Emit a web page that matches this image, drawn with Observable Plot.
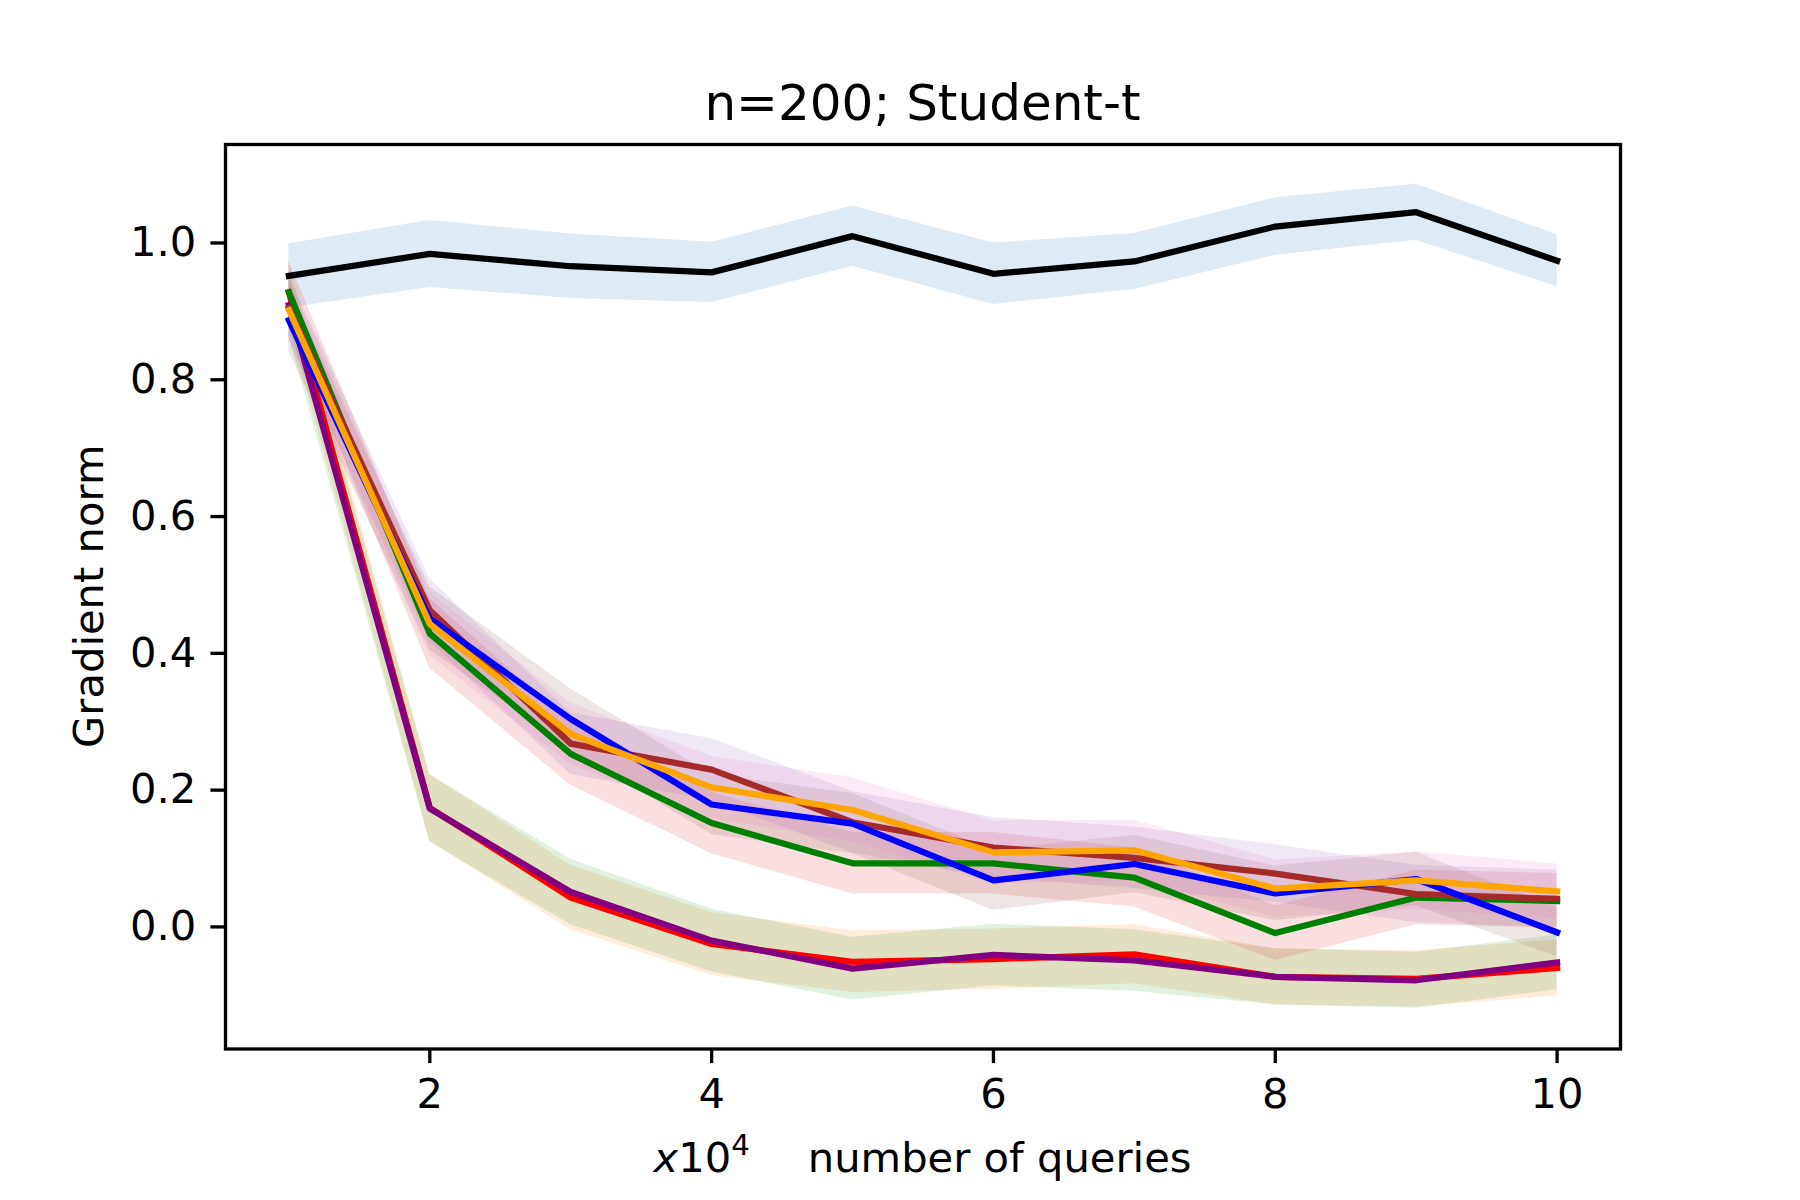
<!DOCTYPE html>
<html>
<head>
<meta charset="utf-8">
<script src="https://cdn.jsdelivr.net/npm/d3@7"></script>
<script src="https://cdn.jsdelivr.net/npm/@observablehq/plot@0.6"></script>
<style>
  html, body { margin: 0; padding: 0; background: #ffffff; }
  #chart svg { display: block; }
</style>
</head>
<body>
<div id="chart"></div>
<script>
// ---- data (x in units of 10^4 queries) ----
const queries = [1, 2, 3, 4, 5, 6, 7, 8, 9, 10];

const seriesNames = ["black", "red", "purple", "green", "brown", "blue", "orange"];
const lineColors  = ["black", "red", "purple", "green", "brown", "blue", "orange"];
const bandColors  = ["#1f77b4", "#ff7f0e", "#2ca02c", "#d62728", "#9467bd", "#8c564b", "#e377c2"];

const meanBlack  = [0.952, 0.984, 0.966, 0.957, 1.010, 0.955, 0.973, 1.024, 1.045, 0.974];
const meanRed    = [0.928, 0.174, 0.043, -0.025, -0.051, -0.047, -0.040, -0.073, -0.076, -0.060];
const meanPurple = [0.909, 0.173, 0.051, -0.020, -0.061, -0.041, -0.049, -0.073, -0.078, -0.052];
const meanGreen  = [0.928, 0.429, 0.253, 0.152, 0.093, 0.093, 0.072, -0.009, 0.043, 0.038];
const meanBrown  = [0.905, 0.463, 0.268, 0.230, 0.153, 0.116, 0.101, 0.078, 0.048, 0.041];
const meanBlue   = [0.887, 0.451, 0.304, 0.179, 0.151, 0.068, 0.092, 0.049, 0.070, -0.008];
const meanOrange = [0.902, 0.443, 0.282, 0.204, 0.171, 0.109, 0.112, 0.056, 0.068, 0.052];

const spreadBlack  = [0.047, 0.049, 0.047, 0.044, 0.044, 0.045, 0.041, 0.042, 0.041, 0.038];
const spreadRed    = [0.045, 0.049, 0.047, 0.046, 0.045, 0.044, 0.043, 0.041, 0.041, 0.041];
const spreadPurple = [0.045, 0.049, 0.048, 0.046, 0.046, 0.045, 0.045, 0.041, 0.041, 0.040];
const spreadGreen  = [0.045, 0.051, 0.046, 0.045, 0.045, 0.045, 0.043, 0.040, 0.040, 0.040];
const spreadBrown  = [0.046, 0.046, 0.045, 0.045, 0.045, 0.044, 0.045, 0.042, 0.042, 0.042];
const spreadBlue   = [0.046, 0.046, 0.044, 0.044, 0.044, 0.044, 0.042, 0.040, 0.039, 0.036];
const spreadOrange = [0.046, 0.046, 0.045, 0.045, 0.047, 0.046, 0.044, 0.042, 0.042, 0.040];

const yTicks = [0.0, 0.2, 0.4, 0.6, 0.8, 1.0];
const xTicks = [2, 4, 6, 8, 10];

const titleText = "n=200; Student-t";
const yLabelText = "Gradient norm";
const xLabelMath = "x";
const xLabelBase = "10";
const xLabelExp = "4";
const xLabelText = "number of queries";

// ---- build table ----
const means = [meanBlack, meanRed, meanPurple, meanGreen, meanBrown, meanBlue, meanOrange];
const spreads = [spreadBlack, spreadRed, spreadPurple, spreadGreen, spreadBrown, spreadBlue, spreadOrange];
const rowsBySeries = seriesNames.map((name, i) =>
  queries.map((q, j) => ({
    series: name,
    x: q,
    y: means[i][j],
    lo: means[i][j] - spreads[i][j],
    hi: means[i][j] + spreads[i][j]
  }))
);

// ---- layout (px) ----
const W = 1800, H = 1200;
const mL = 225, mR = 180, mT = 144, mB = 151.5;
const FS = 41.67;      // 10pt @ 300dpi
const lw = 6.25;       // 1.5pt
const axw = 3.33;      // 0.8pt
const tick = 14.6;     // 3.5pt

const marks = [];
// bands (drawn beneath all lines, like matplotlib collections)
rowsBySeries.forEach((rows, i) => {
  marks.push(Plot.areaY(rows, {x: "x", y1: "lo", y2: "hi", fill: bandColors[i], fillOpacity: 0.15, curve: "linear"}));
});
rowsBySeries.forEach((rows, i) => {
  marks.push(Plot.line(rows, {x: "x", y: "y", stroke: lineColors[i], strokeWidth: lw,
    strokeLinecap: "square", strokeLinejoin: "round", curve: "linear"}));
});
marks.push(Plot.axisY({ticks: yTicks, tickFormat: d3.format(".1f"), tickSize: tick, tickPadding: tick,
  strokeWidth: axw, label: null, fontSize: FS}));
marks.push(Plot.axisX({ticks: xTicks, tickFormat: d3.format("d"), tickSize: tick, tickPadding: tick,
  strokeWidth: axw, label: null, fontSize: FS}));
marks.push(Plot.frame({stroke: "black", strokeWidth: axw}));

const chart = Plot.plot({
  width: W,
  height: H,
  marginLeft: mL,
  marginRight: mR,
  marginTop: mT,
  marginBottom: mB,
  style: {fontFamily: "'DejaVu Sans', sans-serif", fontSize: FS + "px", color: "black", background: "white"},
  x: {domain: [0.55, 10.45]},
  y: {domain: [-0.1785, 1.144]},
  marks
});
document.getElementById("chart").appendChild(chart);

// ---- titles & axis labels as real text ----
const svg = d3.select(chart);
const cx = mL + (W - mL - mR) / 2;
const cy = mT + (H - mT - mB) / 2;
svg.append("text")
  .attr("x", cx).attr("y", 120)
  .attr("text-anchor", "middle")
  .attr("font-family", "'DejaVu Sans', sans-serif")
  .attr("font-size", 50)
  .attr("fill", "black")
  .text(titleText);

svg.append("text")
  .attr("transform", `translate(103,${cy}) rotate(-90)`)
  .attr("text-anchor", "middle")
  .attr("font-family", "'DejaVu Sans', sans-serif")
  .attr("font-size", FS)
  .attr("fill", "black")
  .text(yLabelText);

const xl = svg.append("text")
  .attr("x", cx).attr("y", 1172)
  .attr("text-anchor", "middle")
  .attr("font-family", "'DejaVu Sans', sans-serif")
  .attr("font-size", FS)
  .attr("fill", "black");
xl.append("tspan").attr("font-style", "italic").text(xLabelMath);
xl.append("tspan").text(xLabelBase);
xl.append("tspan").attr("font-size", FS * 0.7).attr("dy", -17).text(xLabelExp);
xl.append("tspan").attr("dy", 17).attr("dx", 58).text(xLabelText);
</script>
</body>
</html>
